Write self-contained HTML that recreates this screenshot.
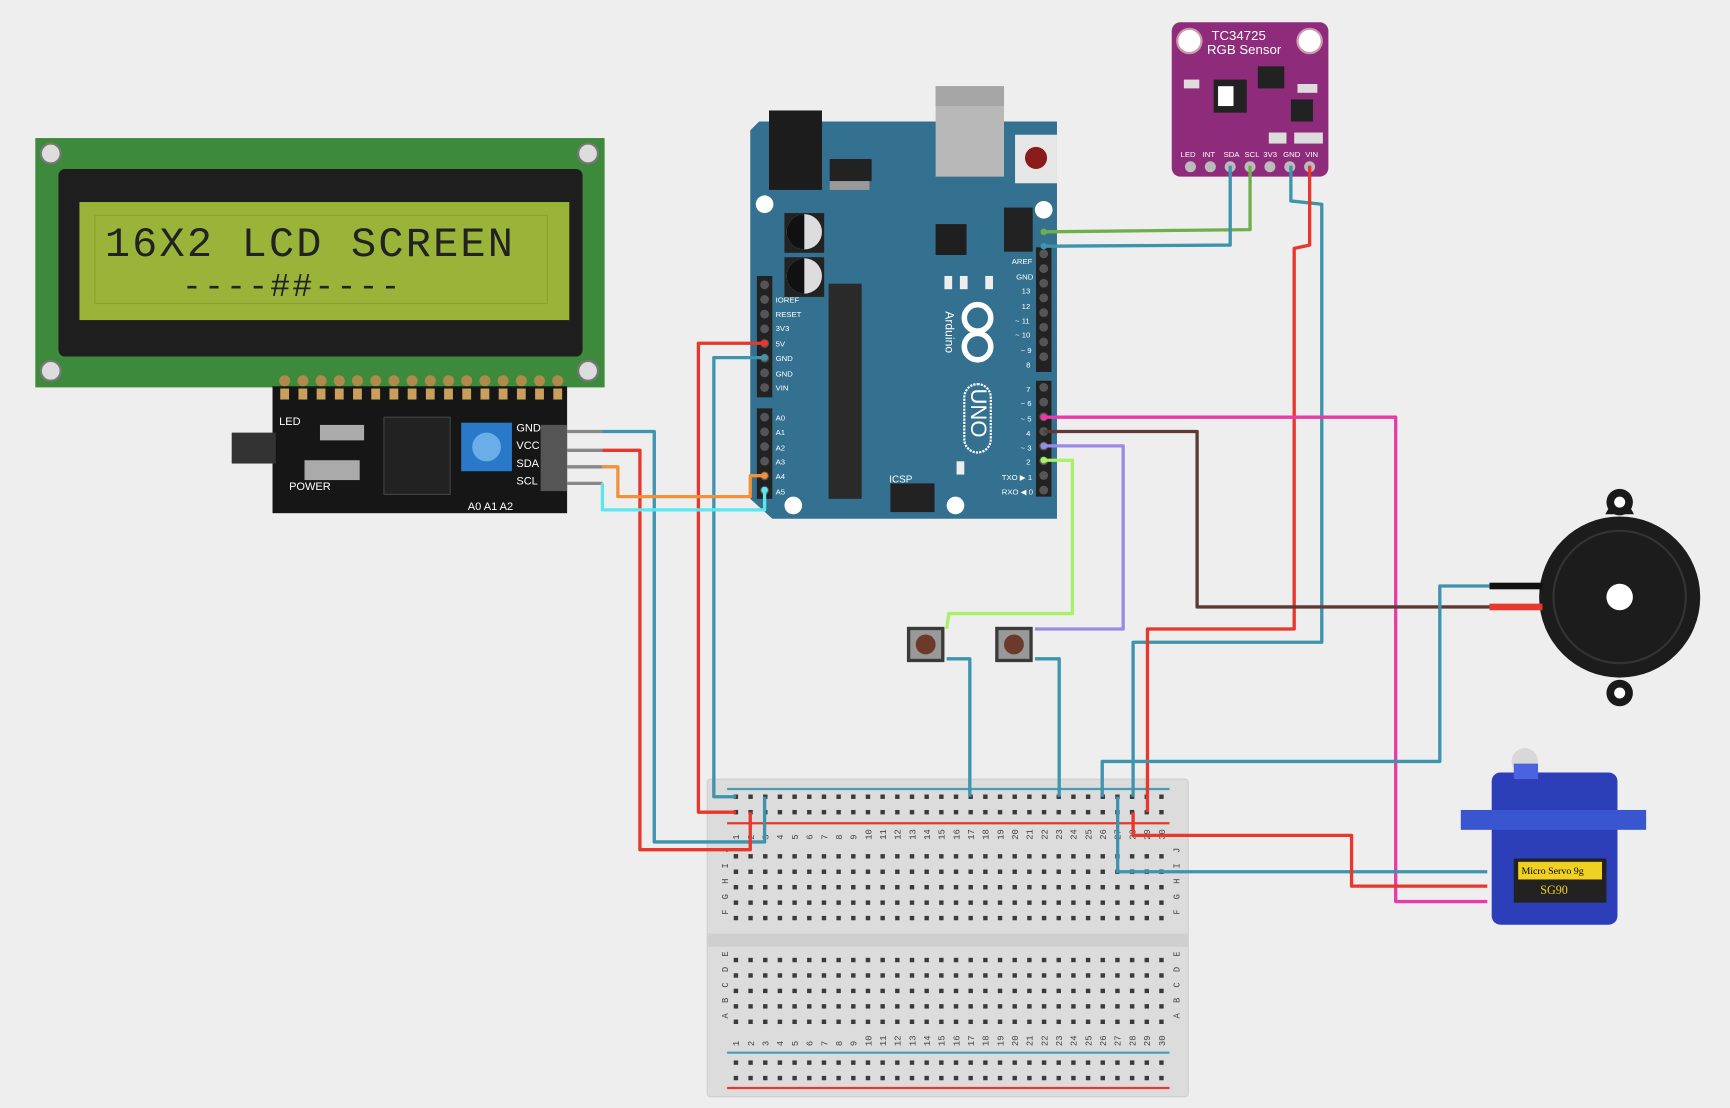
<!DOCTYPE html>
<html><head><meta charset="utf-8"><style>html,body{margin:0;padding:0;background:#eeeeee;}svg{display:block}</style></head>
<body>
<svg width="1730" height="1108" viewBox="0 0 1568 1004" xmlns="http://www.w3.org/2000/svg" font-family="Liberation Sans, sans-serif">
<rect width="1568" height="1004" fill="#eeeeee"/>

<!-- Breadboard -->
<g>
<rect x="641" y="706" width="436" height="288" rx="3" fill="#dcdcdc" stroke="#cfcfcf"/>
<rect x="641" y="846" width="436" height="12" fill="#cfcfcf"/>
<line x1="659" y1="715" x2="1060" y2="715" stroke="#4a9bb5" stroke-width="2"/>
<line x1="659" y1="746" x2="1060" y2="746" stroke="#e8372c" stroke-width="2"/>
<line x1="659" y1="954" x2="1060" y2="954" stroke="#4a9bb5" stroke-width="2"/>
<line x1="659" y1="986" x2="1060" y2="986" stroke="#e8372c" stroke-width="2"/>
<g fill="#3a3a3a" id="holes"></g>
<g font-family="Liberation Mono, monospace" font-size="8" fill="#444" id="labels"></g>
</g>

<!-- LCD -->
<rect x="32" y="125" width="516" height="226" fill="#3d8a3c"/>
<circle cx="46" cy="139" r="9" fill="#ddd" stroke="#777" stroke-width="2"/>
<circle cx="533" cy="139" r="9" fill="#ddd" stroke="#777" stroke-width="2"/>
<circle cx="46" cy="336" r="9" fill="#ddd" stroke="#777" stroke-width="2"/>
<circle cx="533" cy="336" r="9" fill="#ddd" stroke="#777" stroke-width="2"/>
<rect x="53" y="153" width="475" height="170" rx="6" fill="#1e1e1e"/>
<rect x="72" y="183" width="444" height="107" fill="#9ab43a"/>
<g stroke="#8aa230" stroke-width="1" fill="none">
<rect x="86" y="195" width="410" height="80"/>
</g>
<text x="95" y="232" font-family="Liberation Mono, monospace" font-size="38" fill="#222" letter-spacing="2">16X2 LCD SCREEN</text>
<text x="165" y="268" font-family="Liberation Mono, monospace" font-size="30" fill="#222" letter-spacing="2">----##----</text>
<!-- backpack -->
<rect x="247" y="350" width="267" height="115" fill="#161616"/>
<g id="lcdpins" fill="#b08a4a"></g>
<rect x="210" y="392" width="40" height="28" fill="#333"/>
<rect x="348" y="378" width="60" height="70" fill="#222" stroke="#444"/>
<rect x="418" y="383" width="46" height="44" fill="#2a78c8"/>
<circle cx="441" cy="405" r="13" fill="#6aaee8"/>
<rect x="490" y="385" width="24" height="60" fill="#555"/>
<g stroke="#888" stroke-width="3"><line x1="514" y1="391" x2="546" y2="391"/><line x1="514" y1="408" x2="546" y2="408"/><line x1="514" y1="423" x2="546" y2="423"/><line x1="514" y1="438" x2="546" y2="438"/></g>
<g font-size="10" fill="#fff"><text x="468" y="391">GND</text><text x="468" y="407">VCC</text><text x="468" y="423">SDA</text><text x="468" y="439">SCL</text>
<text x="253" y="385">LED</text><text x="262" y="444">POWER</text><text x="424" y="462">A0 A1 A2</text></g>
<g fill="#aaa"><rect x="276" y="417" width="50" height="18"/><rect x="290" y="385" width="40" height="14"/></g>

<!-- Arduino -->
<g>
<path d="M688 110 H958 V470 H700 L680 452 V118 Z" fill="#34708f"/>
<rect x="697" y="100" width="48" height="72" fill="#1c1c1c"/>
<rect x="848" y="78" width="62" height="82" fill="#b8b8b8"/>
<rect x="848" y="78" width="62" height="18" fill="#a5a5a5"/>
<rect x="920" y="122" width="38" height="44" fill="#e6e6e6"/>
<circle cx="939" cy="143" r="10" fill="#8b1a1a"/>
<rect x="752" y="144" width="38" height="20" fill="#222"/>
<rect x="752" y="164" width="36" height="8" fill="#999"/>
<circle cx="693" cy="185" r="8" fill="#fff"/><circle cx="946" cy="190" r="8" fill="#fff"/>
<circle cx="719" cy="458" r="8" fill="#fff"/><circle cx="866" cy="458" r="8" fill="#fff"/>
<rect x="711" y="193" width="36" height="36" fill="#222"/><circle cx="729" cy="210" r="16" fill="#ddd"/><path d="M729 194 A16 16 0 0 0 729 226Z" fill="#111"/>
<rect x="711" y="233" width="36" height="36" fill="#222"/><circle cx="729" cy="250" r="16" fill="#ddd"/><path d="M729 234 A16 16 0 0 0 729 266Z" fill="#111"/>
<rect x="751" y="257" width="30" height="195" fill="#2a2a2a"/>
<rect x="848" y="203" width="28" height="28" fill="#1f1f1f"/>
<rect x="910" y="188" width="26" height="40" fill="#222"/>
<rect x="807" y="438" width="40" height="26" fill="#222"/>
<rect x="939" y="224" width="14" height="113" fill="#222"/>
<rect x="939" y="345" width="14" height="105" fill="#222"/>
<rect x="686" y="250" width="14" height="110" fill="#222"/>
<rect x="686" y="370" width="14" height="82" fill="#222"/>
<g id="apins" fill="#555"></g>
<g font-size="7" fill="#fff">
<text x="703" y="274">IOREF</text><text x="703" y="287">RESET</text><text x="703" y="300">3V3</text><text x="703" y="314">5V</text><text x="703" y="327">GND</text><text x="703" y="341">GND</text><text x="703" y="354">VIN</text>
<text x="703" y="381">A0</text><text x="703" y="394">A1</text><text x="703" y="408">A2</text><text x="703" y="421">A3</text><text x="703" y="434">A4</text><text x="703" y="448">A5</text>
<text x="917" y="239">AREF</text><text x="921" y="253">GND</text><text x="926" y="266">13</text><text x="926" y="280">12</text><text x="920" y="293">~ 11</text><text x="920" y="306">~ 10</text><text x="925" y="320">~ 9</text><text x="930" y="333">8</text>
<text x="930" y="355">7</text><text x="925" y="368">~ 6</text><text x="925" y="382">~ 5</text><text x="930" y="395">4</text><text x="925" y="408">~ 3</text><text x="930" y="421">2</text><text x="908" y="435">TXO ▶ 1</text><text x="908" y="448">RXO ◀ 0</text>
<text x="806" y="437" font-size="9">ICSP</text>
</g>
<g transform="translate(886,300)">
<circle cx="0" cy="-12" r="12" fill="none" stroke="#fff" stroke-width="5"/><circle cx="0" cy="14" r="12" fill="none" stroke="#fff" stroke-width="5"/>
<rect x="-12" y="48" width="24" height="62" rx="12" fill="none" stroke="#fff" stroke-width="2" stroke-dasharray="2 1"/>
<text x="0" y="0" transform="translate(-6,52) rotate(90)" font-size="20" fill="#fff">UNO</text>
</g>
<text transform="translate(857,282) rotate(90)" font-size="11" fill="#fff">Arduino</text>
<g fill="#eee"><rect x="856" y="250" width="7" height="12"/><rect x="870" y="250" width="7" height="12"/><rect x="893" y="250" width="7" height="12"/><rect x="867" y="418" width="7" height="12"/></g>
</g>

<!-- RGB sensor -->
<rect x="1062" y="20" width="142" height="140" rx="8" fill="#8e2b7a"/>
<circle cx="1078" cy="37" r="11" fill="#fff" stroke="#c9a" stroke-width="2"/><circle cx="1187" cy="37" r="11" fill="#fff" stroke="#c9a" stroke-width="2"/>
<text x="1098" y="36" font-size="12" fill="#fff">TC34725</text><text x="1094" y="49" font-size="12" fill="#fff">RGB Sensor</text>
<rect x="1100" y="72" width="30" height="30" fill="#222"/><rect x="1104" y="78" width="14" height="18" fill="#fff"/>
<rect x="1140" y="60" width="24" height="20" fill="#222"/><rect x="1170" y="90" width="20" height="20" fill="#222"/>
<g fill="#ddd"><rect x="1073" y="72" width="14" height="8"/><rect x="1176" y="76" width="18" height="8"/><rect x="1173" y="120" width="26" height="10"/><rect x="1150" y="120" width="16" height="10"/></g>
<g font-size="7" fill="#fff"><text x="1070" y="142">LED</text><text x="1090" y="142">INT</text><text x="1109" y="142">SDA</text><text x="1128" y="142">SCL</text><text x="1145" y="142">3V3</text><text x="1163" y="142">GND</text><text x="1183" y="142">VIN</text></g>
<g fill="#bbb"><circle cx="1079" cy="151" r="5"/><circle cx="1097" cy="151" r="5"/><circle cx="1115" cy="151" r="5"/><circle cx="1133" cy="151" r="5"/><circle cx="1151" cy="151" r="5"/><circle cx="1169" cy="151" r="5"/><circle cx="1187" cy="151" r="5"/></g>

<!-- Buzzer -->
<path d="M1455 466 Q1468 440 1481 466 Z" fill="#1a1a1a"/><circle cx="1468" cy="455" r="12" fill="#1a1a1a"/><circle cx="1468" cy="455" r="5" fill="#fff"/>
<circle cx="1468" cy="628" r="12" fill="#1a1a1a"/><circle cx="1468" cy="628" r="5" fill="#fff"/>
<circle cx="1468" cy="541" r="73" fill="#1c1c1c"/>
<circle cx="1468" cy="541" r="60" fill="none" stroke="#333" stroke-width="2"/>
<circle cx="1468" cy="541" r="12" fill="#fff"/>
<rect x="1350" y="528" width="48" height="6" fill="#111"/><rect x="1350" y="547" width="48" height="6" fill="#e8372c"/>

<!-- Servo -->
<rect x="1352" y="700" width="114" height="138" rx="8" fill="#2c3fb8"/>
<rect x="1324" y="734" width="168" height="18" fill="#3a55d0"/>
<circle cx="1382" cy="690" r="12" fill="#d8d8d8"/><rect x="1372" y="692" width="22" height="14" fill="#4b63e0"/>
<rect x="1372" y="778" width="84" height="40" fill="#222"/>
<rect x="1376" y="781" width="76" height="16" fill="#f0d020"/>
<text x="1379" y="792" font-size="9" font-family="Liberation Serif, serif">Micro Servo 9g</text>
<text x="1396" y="810" font-size="11" fill="#f0d020" font-family="Liberation Serif, serif">SG90</text>

<!-- Buttons -->
<g><rect x="822" y="568" width="34" height="32" fill="#3a3a3a"/><rect x="825" y="571" width="28" height="26" fill="#999"/><circle cx="839" cy="584" r="9" fill="#6b3a2a"/>
<rect x="902" y="568" width="34" height="32" fill="#3a3a3a"/><rect x="905" y="571" width="28" height="26" fill="#999"/><circle cx="919" cy="584" r="9" fill="#6b3a2a"/></g>

<!-- Wires -->
<g fill="none" stroke-width="3" stroke-linejoin="round">
<polyline stroke="#6fae4c" points="1133,150 1133,208 948,210"/>
<polyline stroke="#3e93ad" points="1115,150 1115,222 948,223"/>
<polyline stroke="#3e93ad" points="1170,150 1170,182 1198,185 1198,582 1027,582 1027,722"/>
<polyline stroke="#e8372c" points="1187,150 1187,222 1173,225 1173,570 1040,570 1040,736"/>
<polyline stroke="#e8372c" points="693,311 633,311 633,736 667,736"/>
<polyline stroke="#3e93ad" points="693,324 647,324 647,722 667,722"/>
<polyline stroke="#3e93ad" points="546,391 593,391 593,763 693,763 693,722"/>
<polyline stroke="#e8372c" points="546,408 580,408 580,770 680,770 680,736"/>
<polyline stroke="#f0923a" points="546,423 560,423 560,450 680,450 680,431 693,431"/>
<polyline stroke="#5ee6f0" points="546,438 546,462 693,462 693,444"/>
<polyline stroke="#e83aa8" points="946,378 1265,378 1265,817 1348,817"/>
<polyline stroke="#5e3a35" points="946,391 1085,391 1085,550 1350,550"/>
<polyline stroke="#9a8ae8" points="946,404 1018,404 1018,570 938,570"/>
<polyline stroke="#a8f068" points="946,417 972,417 972,556 860,556 858,570"/>
<polyline stroke="#3e93ad" points="858,597 879,597 879,722"/>
<polyline stroke="#3e93ad" points="938,597 960,597 960,722"/>
<polyline stroke="#3e93ad" points="1350,531 1305,531 1305,690 999,690 999,722"/>
<polyline stroke="#3e93ad" points="1348,790 1013,790 1013,722"/>
<polyline stroke="#e8372c" points="1348,803 1225,803 1225,757 1027,757 1027,736"/>
</g>
<g>
<circle cx="946" cy="210" r="3" fill="#6fae4c"/><circle cx="946" cy="223" r="3" fill="#3e93ad"/>
<circle cx="693" cy="311" r="3" fill="#e8372c"/><circle cx="693" cy="324" r="3" fill="#3e93ad"/>
<circle cx="693" cy="431" r="3" fill="#f0923a"/><circle cx="693" cy="444" r="3" fill="#5ee6f0"/>
<circle cx="946" cy="378" r="3" fill="#e83aa8"/><circle cx="946" cy="404" r="3" fill="#9a8ae8"/><circle cx="946" cy="417" r="3" fill="#a8f068"/>
</g>

<script>
var ns="http://www.w3.org/2000/svg";
function el(p,t,a){var e=document.createElementNS(ns,t);for(var k in a)e.setAttribute(k,a[k]);p.appendChild(e);return e;}
var h=document.getElementById('holes'),L=document.getElementById('labels');
var rows=[722,736,776,790,804,818,832,870,884,898,912,926,963,977];
for(var c=0;c<30;c++){var x=667+c*13.3;
 rows.forEach(function(y){el(h,'rect',{x:x-2,y:y-2,width:4,height:4});});
 [757,944].forEach(function(y){var t=el(L,'text',{transform:'translate('+(x+3)+','+(y+4)+') rotate(-90)'});t.textContent=c+1;});
}
var lr=['J','I','H','G','F','E','D','C','B','A'],ly=[776,790,804,818,832,870,884,898,912,926];
lr.forEach(function(s,i){[657,1066].forEach(function(x){var t=el(L,'text',{transform:'translate('+(x+3)+','+(ly[i]-3)+') rotate(-90)'});t.textContent=s;});});
var p=document.getElementById('lcdpins');
for(var i=0;i<16;i++){el(p,'circle',{cx:258+i*16.5,cy:345,r:5});el(p,'rect',{x:254+i*16.5,y:352,width:8,height:10,fill:'#c9a05a'});}
var a=document.getElementById('apins');
for(var i=0;i<8;i++){el(a,'circle',{cx:693,cy:258+i*13.3,r:4});el(a,'circle',{cx:946,cy:230+i*13.3,r:4});el(a,'circle',{cx:946,cy:351+i*13.3,r:4});}
for(var i=0;i<6;i++)el(a,'circle',{cx:693,cy:378+i*13.3,r:4});
</script>
</svg>
</body></html>
